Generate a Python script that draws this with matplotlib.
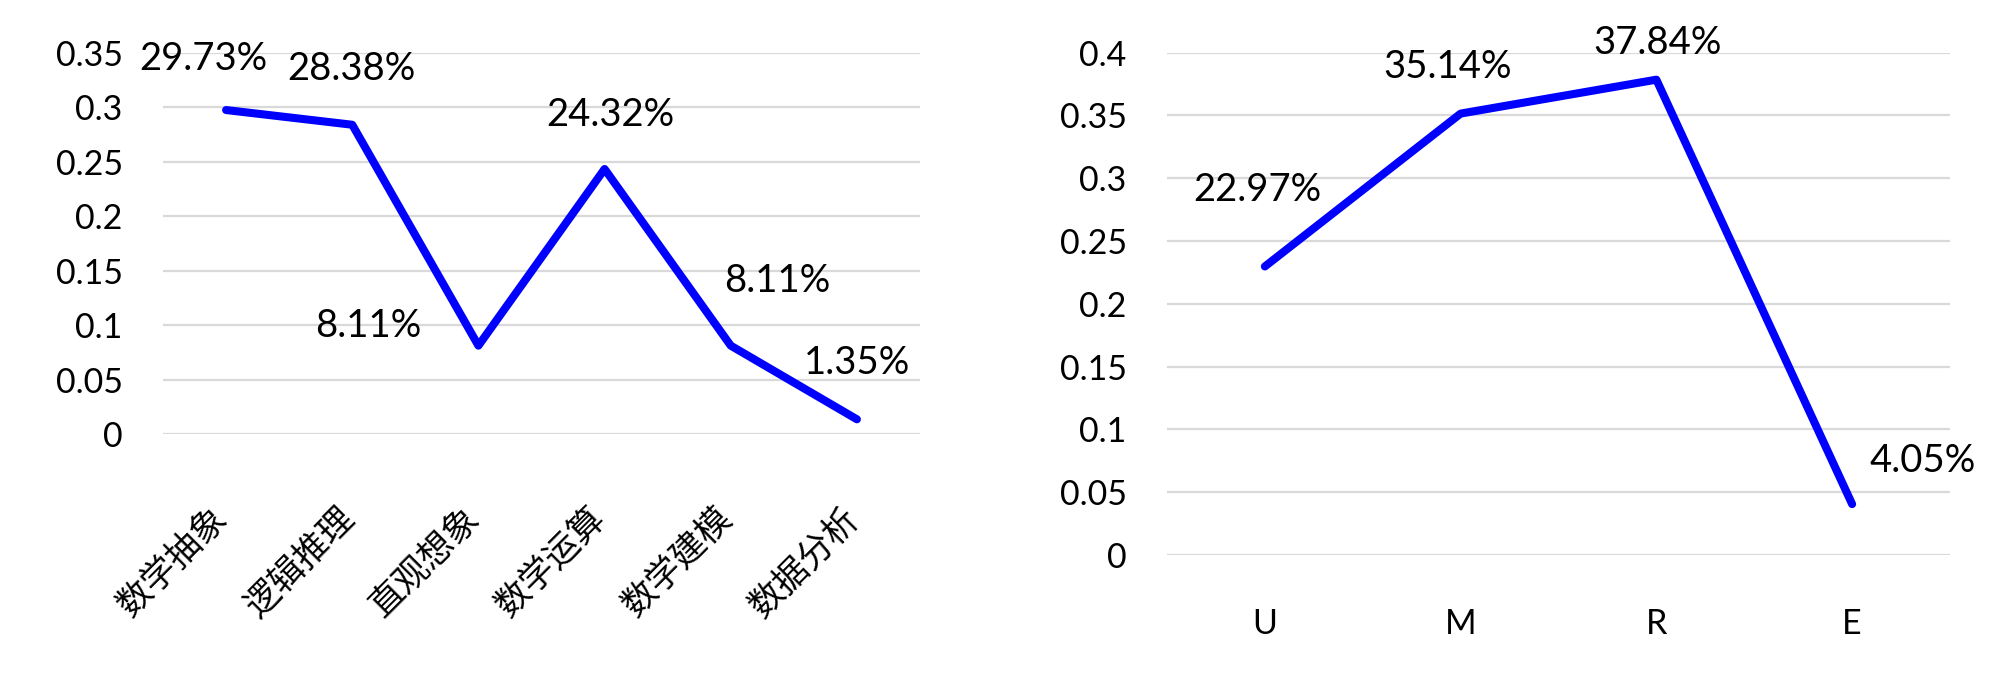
import matplotlib
matplotlib.use("Agg")
import matplotlib.pyplot as plt
from matplotlib.transforms import ScaledTranslation

# data
skills = ["数学抽象", "逻辑推理", "直观想象", "数学运算", "数学建模", "数据分析"]
skill_share = [0.2973, 0.2838, 0.0811, 0.2432, 0.0811, 0.0135]
skill_labels = ["29.73%", "28.38%", "8.11%", "24.32%", "8.11%", "1.35%"]

levels = ["U", "M", "R", "E"]
level_share = [0.2297, 0.3514, 0.3784, 0.0405]
level_labels = ["22.97%", "35.14%", "37.84%", "4.05%"]

left_ticks = [0, 0.05, 0.1, 0.15, 0.2, 0.25, 0.3, 0.35]
left_tick_text = ["0", "0.05", "0.1", "0.15", "0.2", "0.25", "0.3", "0.35"]
right_ticks = [0, 0.05, 0.1, 0.15, 0.2, 0.25, 0.3, 0.35, 0.4]
right_tick_text = ["0", "0.05", "0.1", "0.15", "0.2", "0.25", "0.3", "0.35", "0.4"]

# label offsets in pixels (dx, dy up) from each point
left_offsets = [(-23, 51), (-1, 56), (-110, 20), (6, 54), (46, 65), (0, 56)]
right_offsets = [(-8, 76), (-13, 47), (1, 37), (71, 43)]

LATIN = ["Lato", "DejaVu Sans"]
CJK = ["Noto Sans CJK SC", "DejaVu Sans"]
BLUE = "#0000ff"
GRID = "#d9d9d9"

fig = plt.figure(figsize=(20, 6.77), dpi=100)
ax1 = fig.add_axes([0.0815, 0.3589, 0.3785, 0.5634])
ax2 = fig.add_axes([0.5835, 0.1802, 0.3915, 0.7422])


def style_axes(ax, ticks, tick_text, top):
    ax.set_ylim(0, top)
    ax.set_yticks(ticks)
    ax.set_yticklabels(tick_text, family=LATIN, fontsize=24.5)
    for s in ax.spines.values():
        s.set_visible(False)
    ax.yaxis.grid(True, color=GRID, linewidth=1.6)
    ax.set_axisbelow(True)
    ax.tick_params(axis="y", length=0, pad=29)
    ax.tick_params(axis="x", length=0)


def draw_line(ax, cats, vals, labels, offsets):
    x = list(range(len(cats)))
    ax.plot(x, vals, color=BLUE, linewidth=5.8, solid_capstyle="round",
            solid_joinstyle="round", clip_on=False, zorder=3)
    ax.set_xlim(-0.5, len(cats) - 0.5)
    for xi, v, lab, (dx, dy) in zip(x, vals, labels, offsets):
        ax.annotate(lab, (xi, v), xytext=(dx * 0.72, dy * 0.72),
                    textcoords="offset points", ha="center", va="center",
                    family=LATIN, fontsize=27.5, color="black")


style_axes(ax1, left_ticks, left_tick_text, 0.35)
draw_line(ax1, skills, skill_share, skill_labels, left_offsets)
ax1.set_xticks(range(len(skills)))
ax1.set_xticklabels(skills, family=CJK, fontsize=25, rotation=45,
                    ha="right", va="top", rotation_mode="anchor")
ax1.tick_params(axis="x", pad=48)
shift = ScaledTranslation(-16 / 100, 0, fig.dpi_scale_trans)
for lbl in ax1.get_xticklabels():
    lbl.set_transform(lbl.get_transform() + shift)

style_axes(ax2, right_ticks, right_tick_text, 0.4)
draw_line(ax2, levels, level_share, level_labels, right_offsets)
ax2.set_xticks(range(len(levels)))
ax2.set_xticklabels(levels, family=LATIN, fontsize=24.5)
ax2.tick_params(axis="x", pad=38)

fig.savefig("out.png", dpi=100, facecolor="white")
